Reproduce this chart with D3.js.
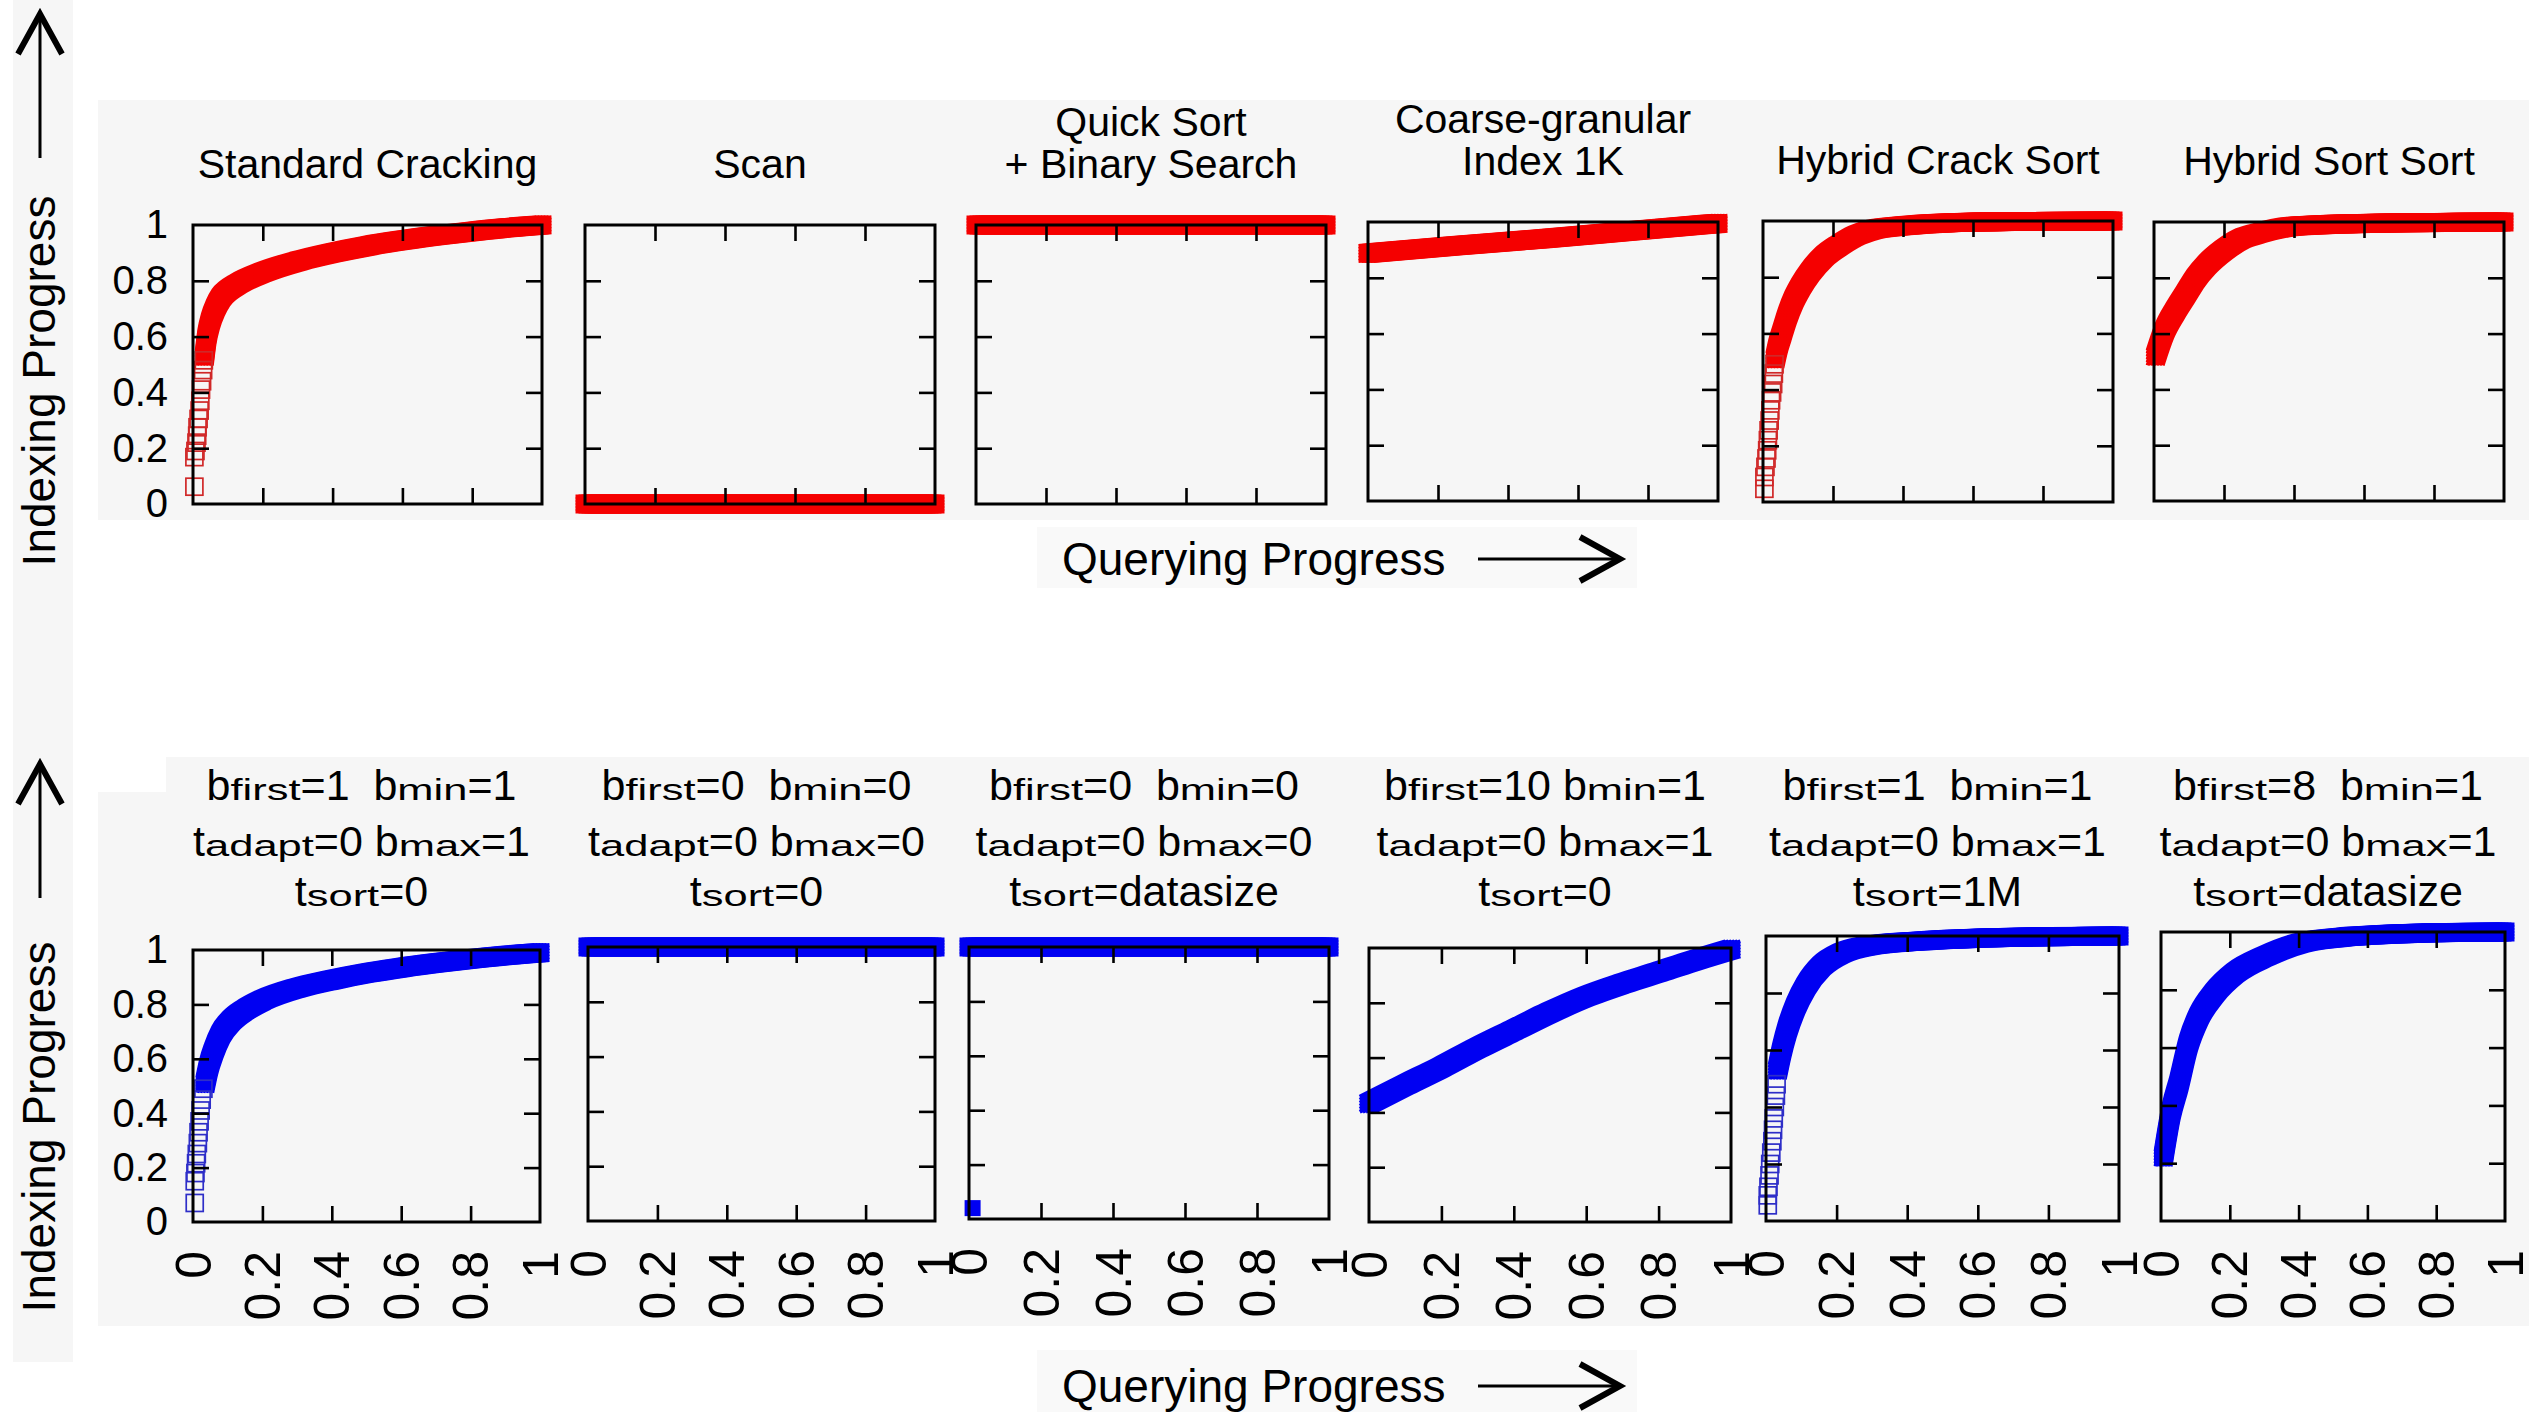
<!DOCTYPE html>
<html lang="en">
<head>
<meta charset="utf-8">
<title>Indexing vs Querying Progress</title>
<script type="text/javascript" src="https://d3js.org/d3.v7.min.js"></script>
<style>
body { margin: 0; background: #fff; }
svg text { font-family: "Liberation Sans", Arial, Helvetica, sans-serif; fill: #000; }
</style>
</head>
<body>
<div id="container"></div>
<script type="text/javascript">

var w = 2542;
var h = 1412;

// ---- data ----
var xTickValues = [0, 0.2, 0.4, 0.6, 0.8, 1];
var yTickValues = [0, 0.2, 0.4, 0.6, 0.8, 1];
var innerTicks = [0.2, 0.4, 0.6, 0.8];

var topTitles = [["Standard Cracking"], ["Scan"], ["Quick Sort", "+ Binary Search"],
                 ["Coarse-granular", "Index 1K"], ["Hybrid Crack Sort"], ["Hybrid Sort Sort"]];

// _{..} marks the small (subscript-like) part
var bottomTitles = [
  ["b_{first}=1  b_{min}=1", "t_{adapt}=0 b_{max}=1", "t_{sort}=0"],
  ["b_{first}=0  b_{min}=0", "t_{adapt}=0 b_{max}=0", "t_{sort}=0"],
  ["b_{first}=0  b_{min}=0", "t_{adapt}=0 b_{max}=0", "t_{sort}=datasize"],
  ["b_{first}=10 b_{min}=1", "t_{adapt}=0 b_{max}=1", "t_{sort}=0"],
  ["b_{first}=1  b_{min}=1", "t_{adapt}=0 b_{max}=1", "t_{sort}=1M"],
  ["b_{first}=8  b_{min}=1", "t_{adapt}=0 b_{max}=1", "t_{sort}=datasize"]
];

// top row (red): [querying progress, indexing progress]
var crackOpen = [[0.004,0.062],[0.004,0.168],[0.007,0.19],[0.01,0.22],[0.012,0.245],[0.013,0.275],[0.016,0.305],
                 [0.019,0.335],[0.021,0.37],[0.023,0.41],[0.026,0.44],[0.029,0.48],[0.031,0.515]];
var crackBand = [[0.033,0.53],[0.04,0.6],[0.05,0.655],[0.065,0.705],[0.08,0.74],[0.1,0.765],[0.13,0.79],[0.2,0.83],
                 [0.3,0.87],[0.4,0.9],[0.5,0.925],[0.6,0.945],[0.7,0.962],[0.8,0.977],[0.9,0.99],[1.0,1.0]];
var scanBand = [[0,0],[1,0]];
var quickBand = [[0,1],[1,1]];
var coarseBand = [[0,0.888],[0.25,0.915],[0.5,0.94],[0.75,0.968],[1,0.995]];
var hcsOpen = [[0.004,0.047],[0.004,0.089],[0.007,0.125],[0.01,0.155],[0.012,0.184],[0.014,0.22],[0.016,0.255],
               [0.019,0.29],[0.021,0.326],[0.023,0.362],[0.026,0.39],[0.029,0.42],[0.031,0.457],[0.033,0.49]];
var hcsBand = [[0.035,0.51],[0.042,0.55],[0.054,0.6],[0.069,0.66],[0.088,0.72],[0.107,0.765],[0.135,0.818],
               [0.173,0.872],[0.22,0.915],[0.269,0.95],[0.316,0.97],[0.41,0.984],[0.507,0.992],[0.7,0.998],[1,1]];
var hssBand = [[0.005,0.52],[0.03,0.61],[0.06,0.68],[0.09,0.74],[0.12,0.8],[0.15,0.845],[0.2,0.9],[0.25,0.94],
               [0.3,0.96],[0.4,0.985],[0.6,0.995],[1,1]];

// bottom row (blue)
var b1Open = [[0.005,0.07],[0.005,0.15],[0.007,0.18],[0.009,0.216],[0.011,0.25],[0.014,0.29],[0.016,0.33],
              [0.019,0.37],[0.022,0.41],[0.025,0.45],[0.03,0.49]];
var b1Band = [[0.035,0.51],[0.045,0.57],[0.06,0.63],[0.08,0.69],[0.11,0.74],[0.15,0.78],[0.2,0.815],[0.3,0.86],
              [0.4,0.89],[0.5,0.915],[0.6,0.935],[0.7,0.952],[0.8,0.967],[0.9,0.98],[1.0,0.99]];
var b2Band = [[0,1],[1,1]];
var b3Band = [[0,1],[1,1]];
var b3Solid = [[0.01,0.04]];
var b4Band = [[0,0.433],[0.1,0.5],[0.2,0.565],[0.3,0.635],[0.4,0.7],[0.5,0.765],[0.6,0.823],[0.7,0.87],
              [0.8,0.912],[0.9,0.955],[1.0,0.995]];
var b5Open = [[0.005,0.055],[0.005,0.09],[0.007,0.12],[0.01,0.16],[0.012,0.2],[0.015,0.24],[0.018,0.28],
              [0.02,0.32],[0.022,0.36],[0.025,0.4],[0.028,0.44],[0.03,0.48]];
var b5Band = [[0.033,0.53],[0.045,0.6],[0.06,0.67],[0.084,0.753],[0.113,0.824],[0.157,0.894],[0.214,0.94],
              [0.287,0.965],[0.43,0.982],[0.65,0.994],[1,1]];
var b6Band = [[0.007,0.222],[0.03,0.38],[0.052,0.476],[0.08,0.615],[0.11,0.707],[0.155,0.788],[0.215,0.858],
              [0.304,0.916],[0.407,0.962],[0.556,0.985],[0.78,0.997],[1,1]];

// ---- layout ----
var topFrames = [[193,225,542,504],[585,225,935,504],[976,225,1326,504],
                 [1368,222,1718,501],[1763,221,2113,502],[2154,222,2504,501]];
var bottomFrames = [[193,950,540,1222],[588,947,935,1221],[969,947,1329,1219],
                    [1369,948,1731,1222],[1766,936,2119,1221],[2161,932,2505,1221]];

var topPanels = [
  {band: crackBand, open: crackOpen}, {band: scanBand}, {band: quickBand},
  {band: coarseBand}, {band: hcsBand, open: hcsOpen}, {band: hssBand}
];
var bottomPanels = [
  {band: b1Band, open: b1Open}, {band: b2Band}, {band: b3Band, solid: b3Solid},
  {band: b4Band}, {band: b5Band, open: b5Open}, {band: b6Band}
];

var red = "#f50000", blue = "#0000f2";
var tickLen = 16;
var offs = [-7.5, -4.5, -1.5, 1.5, 4.5, 7.5];
var offsetPairs = [];
offs.forEach(function(dx){ offs.forEach(function(dy){ offsetPairs.push([dx, dy]); }); });

var svg = d3.select("div#container").append("svg")
    .attr("width", w).attr("height", h)
    .attr("viewBox", "0 0 " + w + " " + h);

// backgrounds
svg.append("rect").attr("x", 0).attr("y", 0).attr("width", w).attr("height", h).attr("fill", "#fff");
svg.append("rect").attr("x", 13).attr("y", 0).attr("width", 60).attr("height", 1362).attr("fill", "#f6f6f6");
svg.append("rect").attr("x", 98).attr("y", 100).attr("width", 2431).attr("height", 420).attr("fill", "#f6f6f6");
svg.append("rect").attr("x", 98).attr("y", 757).attr("width", 2431).attr("height", 569).attr("fill", "#f6f6f6");
svg.append("rect").attr("x", 98).attr("y", 757).attr("width", 68).attr("height", 35).attr("fill", "#fff");
svg.append("rect").attr("x", 1037).attr("y", 527).attr("width", 600).attr("height", 61).attr("fill", "#f9f9f9");
svg.append("rect").attr("x", 1037).attr("y", 1350).attr("width", 600).attr("height", 62).attr("fill", "#f9f9f9");

function drawPanel(frame, panel, color, openColor) {
  var x = d3.scaleLinear().domain([0, 1]).range([frame[0], frame[2]]);
  var y = d3.scaleLinear().domain([0, 1]).range([frame[3], frame[1]]);
  var g = svg.append("g");

  // dense run of square points -> band swept by a ~19px square
  var line = d3.line().x(function(d){ return x(d[0]); }).y(function(d){ return y(d[1]); })
      .curve(d3.curveMonotoneX);
  var pathD = line(panel.band);
  g.append("g").selectAll("path").data(offsetPairs).join("path")
    .attr("d", pathD)
    .attr("transform", function(d){ return "translate(" + d[0] + "," + d[1] + ")"; })
    .attr("fill", "none").attr("stroke", color).attr("stroke-width", 4)
    .attr("stroke-linecap", "square").attr("stroke-linejoin", "round");

  if (panel.open) {
    g.append("g").selectAll("rect").data(panel.open).join("rect")
      .attr("x", function(d){ return x(d[0]) - 8.5; }).attr("y", function(d){ return y(d[1]) - 8.5; })
      .attr("width", 17).attr("height", 17)
      .attr("fill", "none").attr("stroke", openColor).attr("stroke-width", 1.7);
  }
  if (panel.solid) {
    g.append("g").selectAll("rect").data(panel.solid).join("rect")
      .attr("x", function(d){ return x(d[0]) - 8; }).attr("y", function(d){ return y(d[1]) - 8; })
      .attr("width", 16).attr("height", 16).attr("fill", color);
  }

  // inward ticks on all four sides
  function styleTicks(a) {
    a.select(".domain").remove();
    a.selectAll("line").attr("stroke", "#000").attr("stroke-width", 2.6);
  }
  g.append("g").attr("transform", "translate(0," + frame[3] + ")")
    .call(d3.axisBottom(x).tickValues(innerTicks).tickSize(-tickLen).tickFormat("")).call(styleTicks);
  g.append("g").attr("transform", "translate(0," + frame[1] + ")")
    .call(d3.axisTop(x).tickValues(innerTicks).tickSize(-tickLen).tickFormat("")).call(styleTicks);
  g.append("g").attr("transform", "translate(" + frame[0] + ",0)")
    .call(d3.axisLeft(y).tickValues(innerTicks).tickSize(-tickLen).tickFormat("")).call(styleTicks);
  g.append("g").attr("transform", "translate(" + frame[2] + ",0)")
    .call(d3.axisRight(y).tickValues(innerTicks).tickSize(-tickLen).tickFormat("")).call(styleTicks);

  g.append("rect")
    .attr("x", frame[0]).attr("y", frame[1])
    .attr("width", frame[2] - frame[0]).attr("height", frame[3] - frame[1])
    .attr("fill", "none").attr("stroke", "#000").attr("stroke-width", 3);

  return {x: x, y: y, g: g};
}

function yLabels(sc, frame) {
  svg.append("g").attr("transform", "translate(" + frame[0] + ",0)")
    .call(d3.axisLeft(sc.y).tickValues(yTickValues).tickSize(0).tickPadding(25).tickFormat(d3.format("")))
    .call(function(a){
      a.select(".domain").remove();
      a.attr("font-family", null).attr("font-size", 40);
    });
}

// top row
topFrames.forEach(function(f, i) {
  var sc = drawPanel(f, topPanels[i], red, "#d02828");
  if (i === 0) yLabels(sc, f);
  var cx = (f[0] + f[2]) / 2;
  var lines = topTitles[i];
  var base = f[1] - 47;
  lines.forEach(function(t, j) {
    svg.append("text").attr("x", cx).attr("y", base - (lines.length - 1 - j) * 42)
      .attr("text-anchor", "middle").attr("font-size", 41).text(t);
  });
});

// bottom row
var titleBaselines = [800, 856, 906];
bottomFrames.forEach(function(f, i) {
  var sc = drawPanel(f, bottomPanels[i], blue, "#2e2ec8");
  if (i === 0) yLabels(sc, f);

  svg.append("g").attr("transform", "translate(0," + f[3] + ")")
    .call(d3.axisBottom(sc.x).tickValues(xTickValues).tickSize(0).tickFormat(d3.format("")))
    .call(function(a){
      a.select(".domain").remove();
      a.attr("font-family", null).attr("font-size", 50);
      a.selectAll("text")
        .attr("y", null).attr("dy", null)
        .attr("x", -29)
        .attr("transform", "rotate(-90)")
        .attr("text-anchor", "end")
        .attr("dominant-baseline", "central");
    });

  var cx = (f[0] + f[2]) / 2 - 5;
  bottomTitles[i].forEach(function(str, j) {
    var parts = str.split(/_\{([^}]*)\}/);
    var lg = svg.append("g");
    var cursor = 0;
    parts.forEach(function(p, k) {
      if (!p) return;
      var small = (k % 2 === 1);
      var sx = small ? 1.5 : 1;
      var t = lg.append("text")
        .attr("xml:space", "preserve").style("white-space", "pre")
        .attr("font-size", small ? 29 : 43)
        .attr("transform", "translate(" + cursor + ",0) scale(" + sx + ",1)")
        .text(p);
      cursor += t.node().getComputedTextLength() * sx;
    });
    lg.attr("transform", "translate(" + (cx - cursor / 2) + "," + titleBaselines[j] + ")");
  });
});

// axis titles with arrows
function vArrow(x0, yBottom, yTip) {
  svg.append("line").attr("x1", x0).attr("x2", x0).attr("y1", yBottom).attr("y2", yTip + 2)
    .attr("stroke", "#000").attr("stroke-width", 3);
  svg.append("path").attr("d", "M" + (x0 - 22) + "," + (yTip + 40) + "L" + x0 + "," + yTip + "L" + (x0 + 22) + "," + (yTip + 40))
    .attr("fill", "none").attr("stroke", "#000").attr("stroke-width", 6).attr("stroke-linejoin", "miter");
}
function hArrow(xStart, xTip, y0) {
  svg.append("line").attr("x1", xStart).attr("x2", xTip - 2).attr("y1", y0).attr("y2", y0)
    .attr("stroke", "#000").attr("stroke-width", 3);
  svg.append("path").attr("d", "M" + (xTip - 40) + "," + (y0 - 22) + "L" + xTip + "," + y0 + "L" + (xTip - 40) + "," + (y0 + 22))
    .attr("fill", "none").attr("stroke", "#000").attr("stroke-width", 6).attr("stroke-linejoin", "miter");
}

[[381, 158, 14], [1127, 898, 764]].forEach(function(r) {
  svg.append("text").attr("transform", "translate(55," + r[0] + ") rotate(-90)")
    .attr("text-anchor", "middle").attr("font-size", 46).text("Indexing Progress");
  vArrow(40, r[1], r[2]);
});

[[575, 559], [1402, 1386]].forEach(function(r) {
  svg.append("text").attr("x", 1062).attr("y", r[0]).attr("font-size", 46).text("Querying Progress");
  hArrow(1478, 1620, r[1]);
});

</script>
</body>
</html>
